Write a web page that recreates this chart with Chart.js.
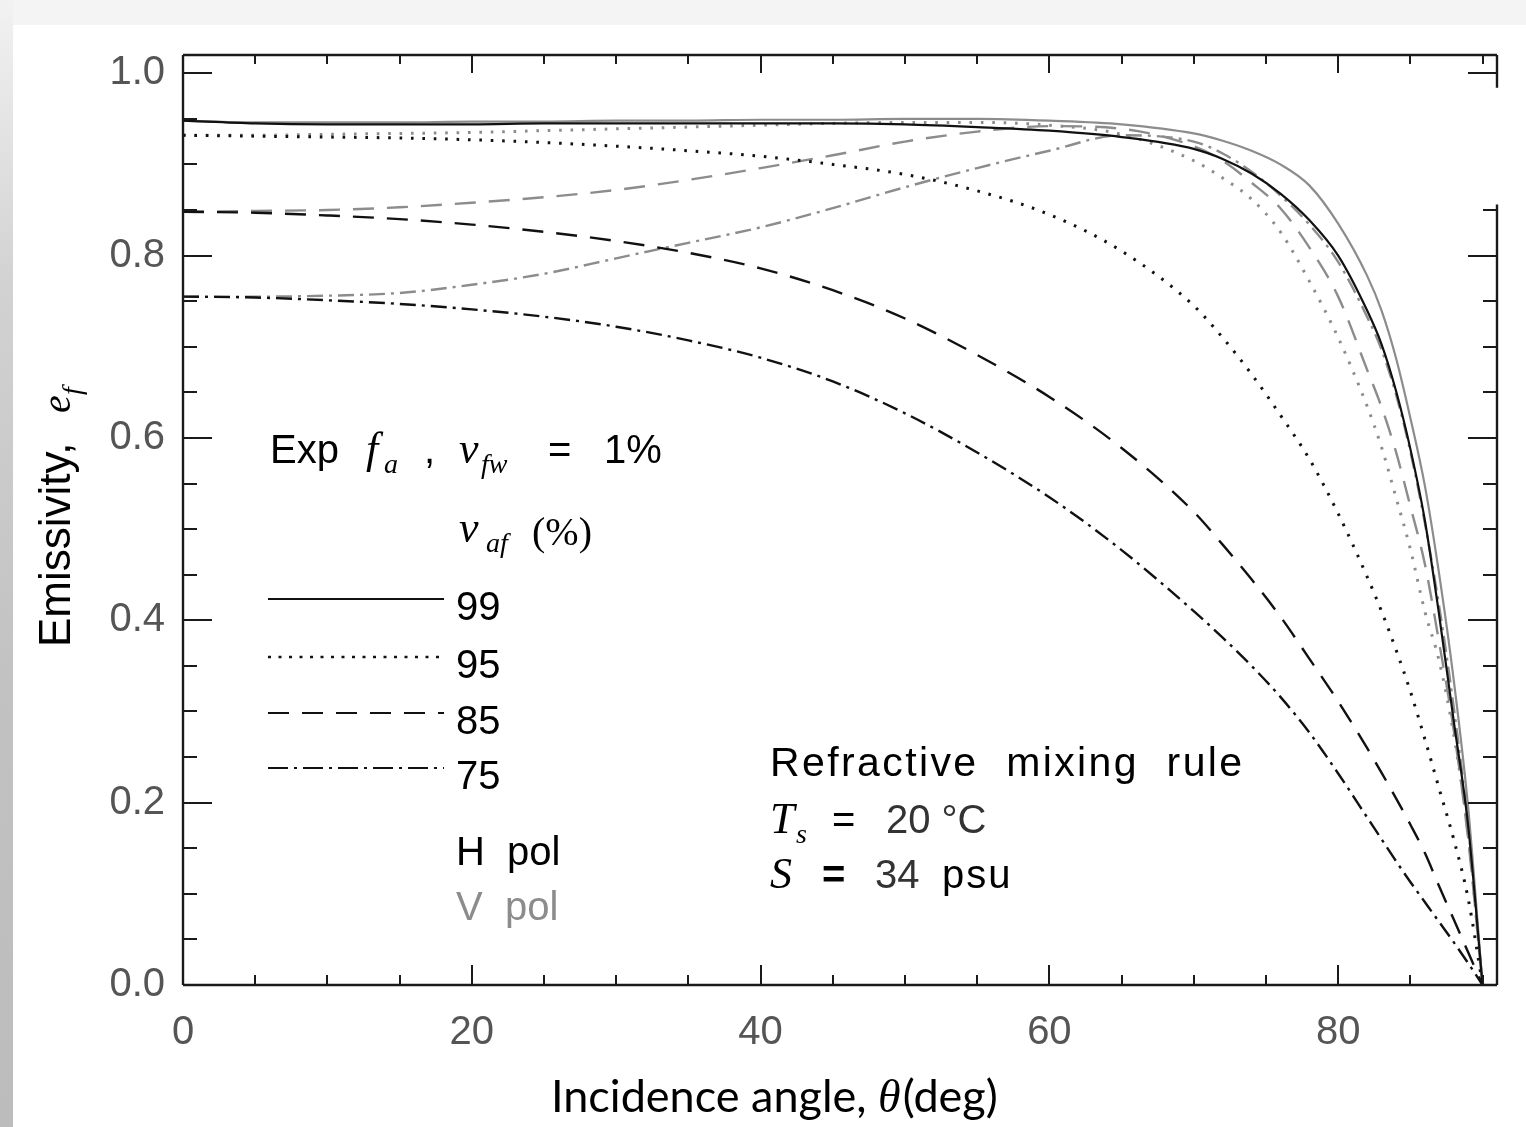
<!DOCTYPE html>
<html><head><meta charset="utf-8">
<script src="https://cdn.jsdelivr.net/npm/chart.js@4.4.1/dist/chart.umd.min.js"></script>
<style>
html,body{margin:0;padding:0;width:1526px;height:1127px;overflow:hidden;background:#f4f4f4;}
#strip{position:absolute;left:0;top:0;width:13px;height:1127px;background:linear-gradient(to bottom,#f2f2f2 0%,#d2d2d2 25%,#c2c2c2 60%,#bcbcbc 100%);}
#panel{position:absolute;left:13px;top:25px;width:1513px;height:1102px;background:#fff;}
#wrap{position:absolute;left:0;top:0;width:1526px;height:1127px;}
</style></head>
<body>
<div id="strip"></div><div id="panel"></div>
<div id="wrap"><canvas id="c" width="1526" height="1127"></canvas></div>
<script>
// ---- data (incidence angle in degrees, emissivity) ----
const angles = [0,5,10,15,20,25,30,35,40,45,50,55,60,65,70,72,74,76,78,80,82,83,84,85,86,87,88,89,90];
const h99 = [0.948,0.945,0.944,0.944,0.944,0.945,0.945,0.945,0.945,0.945,0.944,0.941,0.937,0.930,0.917,0.906,0.890,0.868,0.839,0.800,0.740,0.703,0.652,0.588,0.510,0.405,0.290,0.175,0];
const v99 = [0.948,0.946,0.946,0.946,0.947,0.947,0.948,0.948,0.949,0.949,0.950,0.950,0.948,0.944,0.934,0.926,0.915,0.900,0.877,0.835,0.778,0.740,0.688,0.622,0.548,0.450,0.335,0.195,0];
const h95 = [0.932,0.931,0.930,0.929,0.927,0.924,0.920,0.915,0.909,0.900,0.889,0.871,0.845,0.805,0.745,0.710,0.670,0.625,0.577,0.517,0.448,0.410,0.368,0.322,0.270,0.215,0.160,0.095,0];
const v95 = [0.932,0.932,0.933,0.934,0.935,0.937,0.939,0.941,0.943,0.945,0.946,0.946,0.943,0.933,0.904,0.885,0.862,0.826,0.772,0.710,0.635,0.590,0.535,0.478,0.410,0.355,0.275,0.165,0];
const h85 = [0.848,0.847,0.844,0.840,0.834,0.826,0.816,0.803,0.786,0.762,0.731,0.691,0.645,0.589,0.519,0.483,0.445,0.404,0.358,0.311,0.260,0.233,0.205,0.176,0.145,0.108,0.072,0.036,0];
const v85 = [0.848,0.849,0.850,0.853,0.858,0.864,0.872,0.883,0.896,0.910,0.925,0.936,0.942,0.939,0.920,0.904,0.880,0.852,0.809,0.755,0.675,0.634,0.585,0.525,0.462,0.375,0.280,0.160,0];
const h75 = [0.755,0.754,0.751,0.747,0.741,0.733,0.722,0.707,0.688,0.662,0.627,0.584,0.535,0.477,0.410,0.381,0.350,0.316,0.277,0.232,0.184,0.160,0.136,0.113,0.091,0.069,0.047,0.024,0];
const v75 = [0.755,0.755,0.756,0.759,0.768,0.780,0.797,0.814,0.831,0.852,0.875,0.896,0.915,0.932,0.925,0.912,0.892,0.866,0.834,0.793,0.733,0.697,0.648,0.585,0.507,0.415,0.305,0.175,0];
const vafLabels = ['99','95','85','75'];
const xTickValues = [0,20,40,60,80];
const yTickValues = [0,0.2,0.4,0.6,0.8,1.0];
const xMinorStep = 5, yMinorStep = 0.05;

// ---- styles ----
const BLACK = '#111111', GRAY = '#8c8c8c';
const STYLES = [
  {dash: [], width: 2.2},
  {dash: [2.6, 8.8], width: 3},
  {dash: [21, 13], width: 2.4},
  {dash: [16, 6, 3, 6], width: 2.4}
];
const SANS = '"Liberation Sans", Arial, sans-serif';
const SERIF = '"Liberation Serif", "DejaVu Serif", serif';

const hSeries = [h99, h95, h85, h75];
const vSeries = [v99, v95, v85, v75];
const pts = arr => angles.map((a, i) => ({x: a, y: arr[i]}));

const datasets = [];
hSeries.forEach((s, i) => datasets.push({
  label: 'H pol ' + vafLabels[i], data: pts(s), borderColor: BLACK,
  borderWidth: STYLES[i].width, borderDash: STYLES[i].dash, pointRadius: 0,
  cubicInterpolationMode: 'monotone', fill: false
}));
vSeries.forEach((s, i) => datasets.push({
  label: 'V pol ' + vafLabels[i], data: pts(s), borderColor: GRAY,
  borderWidth: STYLES[i].width, borderDash: STYLES[i].dash, pointRadius: 0,
  cubicInterpolationMode: 'monotone', fill: false
}));

function txt(ctx, s, x, y, font, color) {
  ctx.font = font; ctx.fillStyle = color || '#000'; ctx.fillText(s, x, y);
  return x + ctx.measureText(s).width;
}

const framePlugin = {
  id: 'frame',
  afterDraw(chart) {
    const ctx = chart.ctx, ca = chart.chartArea;
    const xs = chart.scales.x, ys = chart.scales.y;
    ctx.save();
    ctx.strokeStyle = '#1a1a1a'; ctx.lineWidth = 2.4; ctx.lineCap = 'butt';
    // frame (right side has a gap as in the original figure)
    const gapTop = ys.getPixelForValue(0.984), gapBot = ys.getPixelForValue(0.856);
    ctx.beginPath();
    ctx.moveTo(ca.left, ca.top); ctx.lineTo(ca.right, ca.top);
    ctx.moveTo(ca.left, ca.top); ctx.lineTo(ca.left, ca.bottom);
    ctx.moveTo(ca.left, ca.bottom); ctx.lineTo(ca.right, ca.bottom);
    ctx.moveTo(ca.right, ca.top); ctx.lineTo(ca.right, gapTop);
    ctx.moveTo(ca.right, gapBot); ctx.lineTo(ca.right, ca.bottom);
    ctx.stroke();
    // x ticks (top & bottom)
    ctx.lineWidth = 2;
    ctx.beginPath();
    for (let v = 0; v <= xs.max + 1e-9; v += xMinorStep) {
      const px = Math.round(xs.getPixelForValue(v));
      const major = xTickValues.includes(v);
      const L = major ? 20 : 10;
      ctx.moveTo(px, ca.bottom); ctx.lineTo(px, ca.bottom - L);
      ctx.moveTo(px, ca.top); ctx.lineTo(px, ca.top + (major ? 18 : 9));
    }
    // y ticks (left & right)
    for (let k = 0; k * yMinorStep <= ys.max + 1e-9; k++) {
      const v = +(k * yMinorStep).toFixed(2);
      const py = Math.round(ys.getPixelForValue(v));
      const major = yTickValues.some(t => Math.abs(t - v) < 1e-6);
      const L = major ? 29 : 14;
      ctx.moveTo(ca.left, py); ctx.lineTo(ca.left + L, py);
      if (py < gapTop - 2 || py > gapBot + 2) { ctx.moveTo(ca.right, py); ctx.lineTo(ca.right - L, py); }
    }
    ctx.stroke();

    ctx.textBaseline = 'alphabetic'; ctx.textAlign = 'left';
    const S40 = '40px ' + SANS;
    const I44 = 'italic 44px ' + SERIF, I28 = 'italic 28px ' + SERIF;
    // header lines
    txt(ctx, 'Exp', 270, 463, S40);
    txt(ctx, 'f', 366, 463, I44);
    txt(ctx, 'a', 384, 473, I28);
    txt(ctx, ',', 424, 463, S40);
    txt(ctx, 'v', 459, 463, I44);
    txt(ctx, 'fw', 481, 473, I28);
    txt(ctx, '=', 548, 463, S40);
    txt(ctx, '1%', 604, 463, S40);
    txt(ctx, 'v', 459, 542, I44);
    txt(ctx, 'af', 486, 552, I28);
    txt(ctx, '(%)', 532, 545, '40px ' + SERIF);
    // legend samples
    const ly = [599, 657, 713, 768];
    STYLES.forEach((st, i) => {
      ctx.save();
      ctx.strokeStyle = BLACK; ctx.lineWidth = i === 1 ? 2.4 : 2.2; ctx.setLineDash(i === 1 ? [3, 7.5] : (i === 3 ? [20, 6, 3, 6] : st.dash));
      ctx.beginPath(); ctx.moveTo(268, ly[i]); ctx.lineTo(444, ly[i]); ctx.stroke();
      ctx.restore();
      txt(ctx, vafLabels[i], 456, ly[i] + 21, S40);
    });
    txt(ctx, 'H  pol', 456, 865, S40, '#000');
    txt(ctx, 'V  pol', 456, 920, S40, GRAY);
    // parameters
    ctx.save(); ctx.letterSpacing = '2.4px';
    txt(ctx, 'Refractive  mixing  rule', 770, 776, '41px ' + SANS);
    ctx.restore();
    txt(ctx, 'T', 770, 833, I44);
    txt(ctx, 's', 796, 843, I28);
    txt(ctx, '=', 832, 833, S40);
    txt(ctx, '20 °C', 886, 833, S40, '#333');
    txt(ctx, 'S', 770, 888, I44);
    txt(ctx, '=', 822, 888, 'bold 40px ' + SANS);
    txt(ctx, '34', 875, 888, S40, '#333');
    ctx.save(); ctx.letterSpacing = '2px';
    txt(ctx, 'psu', 942, 888, S40);
    ctx.restore();
    // axis titles
    ctx.save();
    ctx.translate(70, 647); ctx.rotate(-Math.PI / 2);
    txt(ctx, 'Emissivity,', 0, 0, '44px ' + SANS);
    txt(ctx, 'e', 234, 0, 'italic 40px ' + SERIF);
    txt(ctx, 'f', 252, 11, 'italic 28px ' + SERIF);
    ctx.restore();
    const XT = '45px Lato, "Open Sans", sans-serif';
    let xx = txt(ctx, 'Incidence angle, ', 551, 1112, XT);
    xx = txt(ctx, 'θ', xx, 1112, 'italic 46px ' + SERIF);
    txt(ctx, '(deg)', xx + 2, 1112, XT);
    ctx.restore();
  }
};

new Chart(document.getElementById('c'), {
  type: 'line',
  data: {datasets},
  options: {
    responsive: false, animation: false, devicePixelRatio: 1,
    layout: {padding: {top: 55, right: 29, left: 0, bottom: 0}},
    plugins: {legend: {display: false}, tooltip: {enabled: false}},
    scales: {
      x: {
        type: 'linear', min: 0, max: 91,
        afterFit(s) { s.height = 142; },
        afterBuildTicks(s) { s.ticks = xTickValues.map(v => ({value: v})); },
        grid: {display: false, drawTicks: false}, border: {display: false},
        ticks: {font: {family: SANS, size: 40}, color: '#555', padding: 24, maxRotation: 0, autoSkip: false,
                callback: v => String(v)}
      },
      y: {
        type: 'linear', min: 0, max: 1.02,
        afterFit(s) { s.width = 183; },
        afterBuildTicks(s) { s.ticks = yTickValues.map(v => ({value: v})); },
        grid: {display: false, drawTicks: false}, border: {display: false},
        ticks: {font: {family: SANS, size: 40}, color: '#555', padding: 18, autoSkip: false,
                callback: v => Number(v).toFixed(1)}
      }
    }
  },
  plugins: [framePlugin]
});
</script>
</body></html>
